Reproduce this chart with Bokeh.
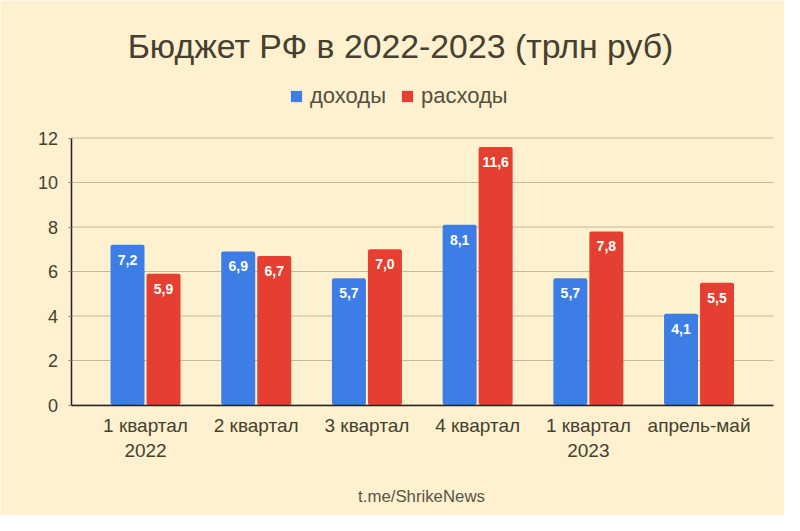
from bokeh.plotting import figure
from bokeh.models import ColumnDataSource, Range1d, FixedTicker, Legend, LegendItem, Label
from bokeh.core.properties import value
from bokeh.embed import file_html
from bokeh.resources import INLINE

TITLE = "Бюджет РФ в 2022-2023 (трлн руб)"
FOOTER = "t.me/ShrikeNews"
categories = ["1 квартал\n2022", "2 квартал", "3 квартал", "4 квартал", "1 квартал\n2023", "апрель-май"]
income = [7.2, 6.9, 5.7, 8.1, 5.7, 4.1]
spending = [5.9, 6.7, 7.0, 11.6, 7.8, 5.5]
income_labels = ["7,2", "6,9", "5,7", "8,1", "5,7", "4,1"]
spending_labels = ["5,9", "6,7", "7,0", "11,6", "7,8", "5,5"]
yticks = [0, 2, 4, 6, 8, 10, 12]
BG = "#fdf1cf"
BLUE = "#3c7ee6"
RED = "#e43f30"
TXT = "#45402f"
FONT = "Liberation Sans"

W, H = 784, 515
# The frame fills the whole canvas; axes are pinned at fixed locations inside it.
X_LEFT, X_RIGHT = -0.673, 5.673
p = figure(width=W, height=H, output_backend="svg", toolbar_location=None,
           x_range=Range1d(-1.31, 5.772), y_range=Range1d(-4.966, 18.18),
           min_border_left=0, min_border_right=0, min_border_top=0, min_border_bottom=0)
p.background_fill_color = BG
p.border_fill_color = BG
p.outline_line_color = None
p.xgrid.visible = False
p.ygrid.visible = False

# Horizontal rules that stop at the axis ends.
p.segment(x0=[X_LEFT] * len(yticks), x1=[X_RIGHT] * len(yticks), y0=yticks, y1=yticks,
          line_color="#c4b998", line_width=1, level="underlay")

centers = list(range(6))
src = ColumnDataSource(dict(
    x1=[c - 0.1626 for c in centers], x2=[c + 0.1626 for c in centers],
    income=income, spending=spending,
    il=income_labels, sl=spending_labels,
))
r1 = p.vbar(x="x1", top="income", width=0.307, bottom=0, source=src, fill_color=BLUE, line_color=None, border_radius=2)
r2 = p.vbar(x="x2", top="spending", width=0.307, bottom=0, source=src, fill_color=RED, line_color=None, border_radius=2)
for xc, yc, tc in (("x1", "income", "il"), ("x2", "spending", "sl")):
    p.text(x=xc, y=yc, text=tc, source=src, y_offset=10, text_align="center", text_baseline="top",
           text_color="#ffffff", text_font=value(FONT), text_font_size="14px", text_font_style="bold")

xax = p.xaxis[0]
xax.fixed_location = 0
xax.bounds = (X_LEFT, X_RIGHT)
xax.ticker = FixedTicker(ticks=centers)
xax.major_label_overrides = {c: n for c, n in zip(centers, categories)}
xax.major_tick_line_color = None
xax.minor_tick_line_color = None
xax.axis_line_color = "#222222"
xax.axis_line_width = 1.5
xax.major_label_text_font = FONT
xax.major_label_text_font_size = "19px"
xax.major_label_text_color = TXT
xax.major_label_standoff = 4

yax = p.yaxis[0]
yax.fixed_location = X_LEFT
yax.bounds = (0, 12)
yax.ticker = FixedTicker(ticks=yticks)
yax.major_tick_in = 0
yax.major_tick_out = 3
yax.major_tick_line_color = "#8a8470"
yax.minor_tick_line_color = None
yax.axis_line_color = "#222222"
yax.axis_line_width = 1.5
yax.major_label_text_font = FONT
yax.major_label_text_font_size = "18px"
yax.major_label_text_color = TXT
yax.major_label_standoff = 10

legend = Legend(items=[LegendItem(label="доходы", renderers=[r1]), LegendItem(label="расходы", renderers=[r2])],
                orientation="horizontal", location=(289, 406), padding=0, margin=0, spacing=14,
                glyph_width=14, glyph_height=14, label_standoff=7,
                label_text_font=FONT, label_text_font_size="22px", label_text_color="#55503f",
                background_fill_alpha=0, border_line_color=None)
p.add_layout(legend)

p.add_layout(Label(x=400, y=H - 45.5, x_units="screen", y_units="screen", text=TITLE, text_font=FONT,
                   text_font_size="33.8px", text_color=TXT, text_align="center", text_baseline="middle"))
p.add_layout(Label(x=421, y=H - 496, x_units="screen", y_units="screen", text=FOOTER, text_font=FONT,
                   text_font_size="16.8px", text_color="#5a5545", text_align="center", text_baseline="middle"))

open("out.html", "w").write(file_html(p, INLINE))
